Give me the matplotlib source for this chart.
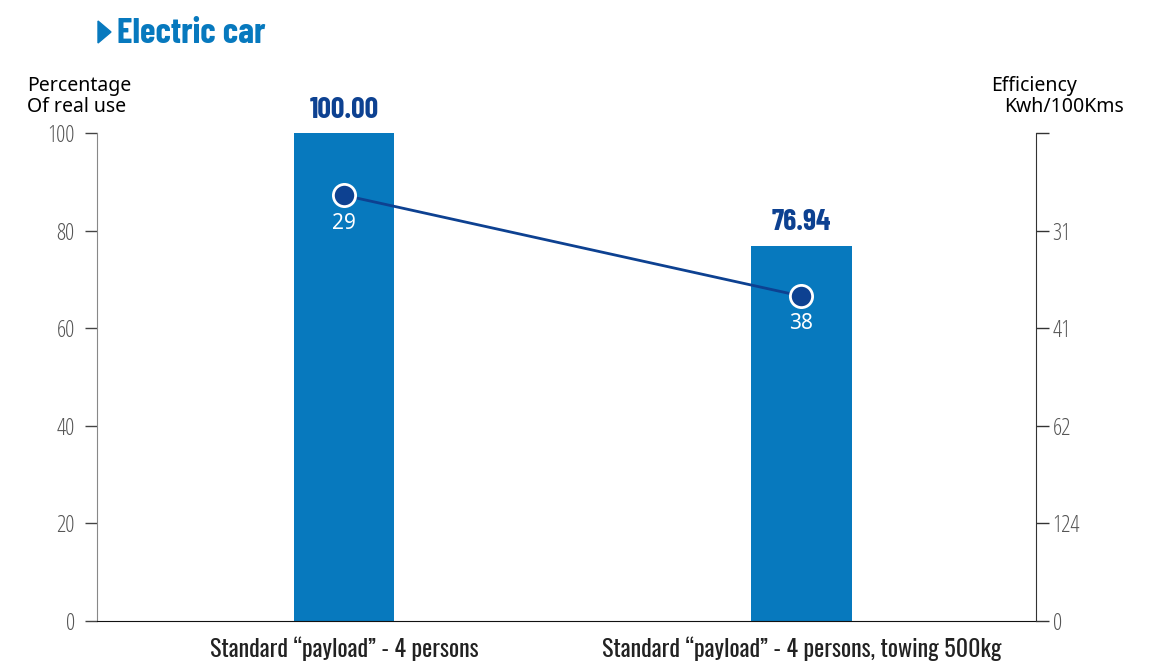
import numpy as np
import matplotlib.pyplot as plt
from matplotlib.patches import Polygon

# data
categories = ['Standard \u201cpayload\u201d - 4 persons',
              'Standard \u201cpayload\u201d - 4 persons, towing 500kg']
real_use = [100.00, 76.94]
efficiency = [29, 38]
left_ticks = [0, 20, 40, 60, 80, 100]
right_tick_labels = ['0', '124', '62', '41', '31', '']
scale_k = 2530  # efficiency is drawn as k / value on the percentage scale

heavy = ['Barlow Condensed', 'DejaVu Sans']
narrow = ['Oswald', 'DejaVu Sans']
thin = ['Open Sans', 'DejaVu Sans']
plain = ['Noto Sans', 'DejaVu Sans']

bar_color = '#0779be'
dark_blue = '#0d4191'

W, H = 1156, 666
fig = plt.figure(figsize=(W / 100, H / 100), dpi=100)
ax = fig.add_axes([0.0839, 0.0676, 0.8123, 0.7327])
x = np.arange(len(categories))

ax.bar(x, real_use, width=0.22, color=bar_color, zorder=2)
for xi, v in zip(x, real_use):
    ax.annotate(f'{v:.2f}', (xi, v), xytext=(0, 11), textcoords='offset points',
                ha='center', va='baseline', fontsize=21.5, fontweight='bold',
                family=heavy, color=dark_blue)

eff_pos = [scale_k / e for e in efficiency]
ax.plot(x, eff_pos, color=dark_blue, lw=2, zorder=3)
ax.plot(x, eff_pos, 'o', ms=16, mfc=dark_blue, mec='white', mew=2, zorder=4)
for xi, e, p in zip(x, efficiency, eff_pos):
    ax.annotate(str(e), (xi, p), xytext=(0, -20), textcoords='offset points',
                ha='center', va='center', fontsize=15, family=plain, color='white',
                zorder=5)

ax.set_xlim(-0.54, 1.513)
ax.set_ylim(0, 100)
ax.set_xticks(x)
ax.set_xticklabels(categories, family=narrow, fontsize=17.3, color='#222222')
ax.tick_params(axis='x', length=0, pad=11)
ax.set_yticks(left_ticks)
ax.set_yticklabels([str(t) for t in left_ticks], family=thin, fontstretch='condensed',
                   fontweight=300, fontsize=16.5, color='#555555')
ax.tick_params(axis='y', length=9, width=1, color='#444444', pad=7)

ax2 = ax.twinx()
ax2.set_ylim(0, 100)
ax2.set_yticks(left_ticks)
ax2.set_yticklabels(right_tick_labels, family=thin, fontstretch='condensed',
                    fontweight=300, fontsize=16.5, color='#555555')
ax2.tick_params(axis='y', length=9, width=1, color='#333333', pad=3)

for a in (ax, ax2):
    a.spines['top'].set_visible(False)
ax.spines['left'].set_color('#888888')
ax2.spines['left'].set_visible(False)
ax2.spines['right'].set_color('#333333')
ax.spines['bottom'].set_color('#111111')
ax2.spines['bottom'].set_visible(False)
ax.spines['right'].set_visible(False)

# small pointer before the title
tri = [(98 / W, 1 - 21 / H), (98 / W, 1 - 43 / H), (111 / W, 1 - 32 / H)]
fig.patches.append(Polygon(tri, closed=True, color=bar_color, transform=fig.transFigure))
fig.text(0.101, 0.936, 'Electric car', fontsize=25.5, fontweight='bold', family=heavy,
         color=bar_color, ha='left', va='baseline')
fig.text(0.0234, 0.864, 'Percentage', fontsize=14, family=plain, ha='left', va='baseline')
fig.text(0.0234, 0.832, 'Of real use', fontsize=14, family=plain, ha='left', va='baseline')
fig.text(0.9316, 0.864, 'Efficiency', fontsize=14, family=plain, ha='right', va='baseline')
fig.text(0.9725, 0.832, 'Kwh/100Kms', fontsize=14, family=plain, ha='right', va='baseline')

fig.savefig('out.png', dpi=100)
